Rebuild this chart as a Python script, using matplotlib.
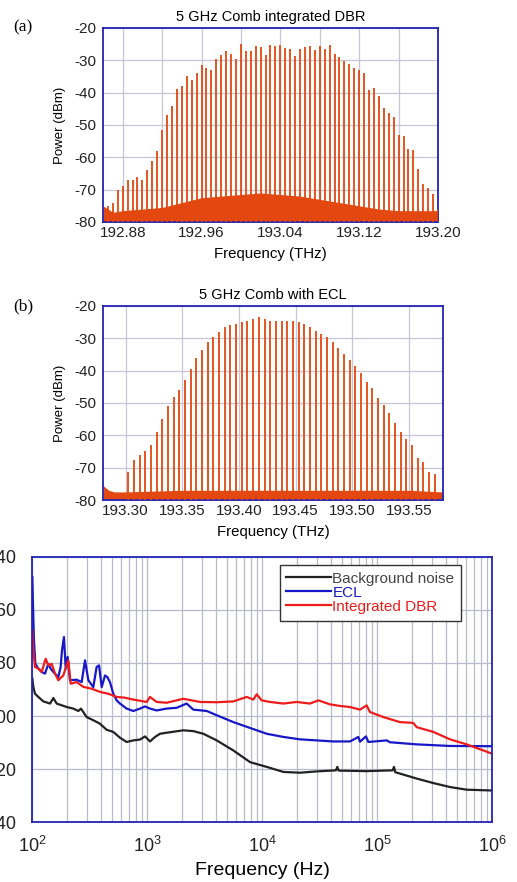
import matplotlib
matplotlib.use("Agg")
import matplotlib.pyplot as plt
import numpy as np

plt.rcParams['axes.unicode_minus'] = False

# ---- (a) 5 GHz comb, integrated DBR ----
comb_spacing = 0.005  # THz
comb_a_start = 192.865
comb_a_peaks = [-75, -74, -70, -69, -67, -67, -66, -67, -64, -61,
                -58, -51.5, -47, -44, -39, -38, -35, -36, -34, -31.5,
                -32.5, -33, -29.5, -28.5, -27, -28, -29.5, -25, -27, -27,
                -25.5, -26, -28.5, -25.4, -25.6, -25.2, -26.2, -26.4, -28.8, -26.4,
                -25.9, -25.6, -26.9, -25.6, -26.4, -25.2, -28.1, -29, -30.2, -31,
                -32.4, -32.9, -33.9, -39.3, -38.6, -41.1, -44.9, -46.2, -47.5, -53,
                -53.4, -57.4, -57.8, -63.5, -68.1, -69.5, -71.2, -76]
floor_a_f = [192.86, 192.87, 192.88, 192.90, 192.92, 192.94, 192.96, 192.98, 193.00,
             193.02, 193.04, 193.06, 193.08, 193.10, 193.12, 193.14, 193.16, 193.18, 193.20]
floor_a_top = [-75, -77, -76.5, -76, -75.5, -74, -72.5, -72, -71.5,
               -71, -71.5, -72, -73, -74, -75, -76, -76.5, -76.5, -76.5]

# ---- (b) 5 GHz comb with ECL ----
comb_b_start = 193.3025
comb_b_peaks = [-71.3, -67.5, -66, -65, -63, -59, -55, -51, -48, -46,
                -43, -39.5, -36, -33.5, -31, -29.5, -28, -26.5, -26, -25.5,
                -25, -24.5, -24, -23.5, -24, -24.5, -24.5, -24.8, -24.8, -24.8,
                -25, -25.5, -26.4, -27.6, -28.6, -29.7, -31, -33, -34.8, -36.6,
                -38.7, -40.8, -43.4, -45.4, -48.5, -50.6, -53.2, -56.3, -58.9, -61.2,
                -63, -67.1, -68.1, -71.2, -72]
floor_b_f = [193.28, 193.285, 193.29, 193.30, 193.35, 193.40, 193.45, 193.50, 193.55, 193.58]
floor_b_top = [-75.5, -77, -77.5, -77.5, -77, -77, -77, -77, -77, -77.5]

# ---- (c) noise spectra (log10 of frequency in Hz, level in dB) ----
bg_logf = [2.003, 2.012, 2.026, 2.055, 2.099, 2.157, 2.186, 2.214, 2.301, 2.359,
           2.403, 2.426, 2.475, 2.533, 2.591, 2.649, 2.707, 2.765, 2.823, 2.881,
           2.939, 2.983, 3.026, 3.07, 3.113, 3.171, 3.316, 3.403, 3.49, 3.606,
           3.751, 3.896, 4.041, 4.186, 4.33, 4.475, 4.643, 4.655, 4.667, 4.91,
           5.136, 5.148, 5.159, 5.345, 5.49, 5.635, 5.78, 6.0]
bg_db = [-85.9, -89.1, -91.6, -92.8, -94.5, -95.3, -93.2, -95.3, -96.6, -97.2,
         -98.1, -97.2, -100.4, -101.6, -102.9, -105.2, -106, -108.2, -109.8, -109.2,
         -108.9, -107.7, -109.6, -107.9, -106.7, -106.3, -105.4, -105.7, -106.7, -109.2,
         -113, -117.4, -119.2, -121.1, -121.4, -120.9, -120.5, -119.2, -120.6, -120.8,
         -120.5, -119.2, -121.2, -123.6, -125.3, -126.8, -127.8, -128.1]

ecl_logf = [2.003, 2.009, 2.017, 2.029, 2.055, 2.084, 2.113, 2.142, 2.162, 2.186,
            2.229, 2.249, 2.261, 2.278, 2.293, 2.31, 2.33, 2.388, 2.432, 2.461,
            2.49, 2.533, 2.562, 2.583, 2.606, 2.635, 2.655, 2.678, 2.707, 2.736,
            2.765, 2.823, 2.881, 2.939, 2.983, 3.026, 3.084, 3.171, 3.258, 3.345,
            3.403, 3.519, 3.606, 3.751, 3.896, 4.041, 4.186, 4.33, 4.475, 4.62,
            4.765, 4.838, 4.852, 4.904, 4.925, 5.084, 5.113, 5.345, 5.635, 6.0]
ecl_db = [-47.5, -58.9, -71.4, -80.3, -82.1, -83.4, -84, -80.3, -82.1, -83.4,
          -85.3, -81.5, -75.2, -70.2, -82.1, -77.7, -86.5, -86.3, -87.2, -79,
          -86.5, -89.1, -81.5, -80.9, -89.1, -84.7, -85.3, -87.2, -91.6, -94.1,
          -95.3, -97.2, -98.1, -97.2, -96.4, -97.2, -97.9, -97.2, -96.9, -95.3,
          -97.6, -98.1, -99.7, -102.3, -104.5, -106.7, -107.9, -108.8, -109.2, -109.6,
          -109.6, -107.9, -109.7, -107.7, -109.8, -109.2, -109.9, -110.7, -111.3, -111.4]

dbr_logf = [2.003, 2.012, 2.026, 2.055, 2.084, 2.119, 2.142, 2.171, 2.2, 2.229,
            2.272, 2.316, 2.336, 2.388, 2.446, 2.519, 2.591, 2.664, 2.736, 2.809,
            2.881, 2.997, 3.026, 3.084, 3.171, 3.316, 3.461, 3.606, 3.751, 3.867,
            3.925, 3.954, 3.997, 4.07, 4.186, 4.301, 4.417, 4.49, 4.591, 4.678,
            4.765, 4.852, 4.91, 4.939, 5.055, 5.2, 5.316, 5.345, 5.49, 5.635,
            5.78, 5.925, 6.0]
dbr_db = [-67.7, -75.2, -81.5, -82.1, -83.4, -78.4, -80.9, -80.3, -84, -86.5,
          -84.7, -79, -87.8, -87.2, -89, -89.7, -90.9, -91.6, -92.8, -93.1,
          -93.8, -94.7, -92.8, -94.7, -95, -93.5, -94.7, -94.8, -94.5, -92.8,
          -93.8, -91.8, -94.1, -94.7, -95.3, -94.7, -95.3, -94.1, -95.6, -96.2,
          -96.6, -97.6, -96, -98.5, -100.4, -102.3, -102.6, -104.2, -106, -108.8,
          -110.7, -113, -114.2]

comb_color = '#e2480f'
spine_color = '#2323b4'
grid_color = '#c6c6d6'
sans = 'Liberation Sans'

fig = plt.figure(figsize=(5.17, 8.82), dpi=100)


def style_axes(ax, labelsize):
    for s in ax.spines.values():
        s.set_color(spine_color)
        s.set_linewidth(1.3)
    ax.tick_params(which='both', length=0, labelsize=labelsize, pad=3,
                   labelcolor='#222222')
    for lab in ax.get_xticklabels() + ax.get_yticklabels():
        lab.set_fontfamily(sans)


def comb_panel(rect, start, peaks, floor_f, floor_top, xlim, major, minor,
               title, tag, tag_y):
    ax = fig.add_axes(rect)
    f = start + comb_spacing * np.arange(len(peaks))
    ax.fill_between(floor_f, -80, floor_top, color=comb_color, lw=0, zorder=2)
    ax.vlines(f, -80, peaks, color=comb_color, lw=1.3, zorder=3)
    ax.set_xlim(*xlim)
    ax.set_ylim(-80, -20)
    ax.set_xticks(major)
    ax.set_xticklabels(['%.2f' % v for v in major])
    ax.set_xticks(minor, minor=True)
    ax.set_yticks(np.arange(-80, -19, 10))
    ax.grid(True, which='both', color=grid_color, lw=0.9, zorder=0)
    ax.set_axisbelow(True)
    style_axes(ax, 11)
    ax.tick_params(axis='y', pad=5)
    ax.set_xlabel("Frequency (THz)", fontsize=10.8, family=sans, labelpad=5)
    ax.set_ylabel("Power (dBm)", fontsize=9.5, family=sans, labelpad=6)
    ax.set_title(title, fontsize=10.5, family=sans, pad=5)
    fig.text(13 / 517, 1 - tag_y / 882, tag, fontsize=12.5,
             family='Liberation Serif', ha='left', va='center')
    return ax


comb_panel([0.1992, 0.7483, 0.648, 0.22], comb_a_start, comb_a_peaks,
           floor_a_f, floor_a_top, (192.86, 193.20),
           [192.88, 192.96, 193.04, 193.12, 193.20],
           [192.92, 193.00, 193.08, 193.16],
           "5 GHz Comb integrated DBR", "(a)", 27)

comb_panel([0.1992, 0.4331, 0.6577, 0.22], comb_b_start, comb_b_peaks,
           floor_b_f, floor_b_top, (193.28, 193.58),
           [193.30, 193.35, 193.40, 193.45, 193.50, 193.55], [],
           "5 GHz Comb with ECL", "(b)", 306)

# ---- (c) ----
axc = fig.add_axes([0.0619, 0.068, 0.8897, 0.3005])
axc.plot(np.power(10.0, bg_logf), bg_db, color='#222222', lw=1.6, label='Background noise')
axc.plot(np.power(10.0, ecl_logf), ecl_db, color='#1717c8', lw=1.6, label='ECL')
axc.plot(np.power(10.0, dbr_logf), dbr_db, color='#ee1b1b', lw=1.6, label='Integrated DBR')
axc.set_xscale('log')
axc.set_xlim(1e2, 1e6)
axc.set_ylim(-140, -40)
axc.set_yticks(np.arange(-140, -39, 20))
axc.xaxis.set_minor_locator(matplotlib.ticker.LogLocator(base=10, subs=np.arange(2, 10)))
axc.xaxis.set_minor_formatter(matplotlib.ticker.NullFormatter())
axc.grid(True, which='both', axis='x', color='#b9b9cc', lw=0.9)
axc.grid(True, which='major', axis='y', color='#b9b9cc', lw=0.9)
axc.set_axisbelow(True)
style_axes(axc, 13)
axc.tick_params(axis='y', pad=11)
axc.tick_params(axis='x', pad=10)
axc.set_xlabel("Frequency (Hz)", fontsize=14, family=sans, labelpad=4)
leg = axc.legend(loc='upper right', bbox_to_anchor=(0.933, 0.97), borderaxespad=0,
                 fancybox=False, framealpha=1, edgecolor='#333333',
                 prop={'family': sans, 'size': 11}, handlelength=2.9,
                 handletextpad=0.1, labelspacing=0.0, borderpad=0.45)
leg.get_frame().set_linewidth(1.0)
for txt, c in zip(leg.get_texts(), ['#444444', '#1717c8', '#ee1b1b']):
    txt.set_color(c)

fig.savefig("out.png", dpi=100)
